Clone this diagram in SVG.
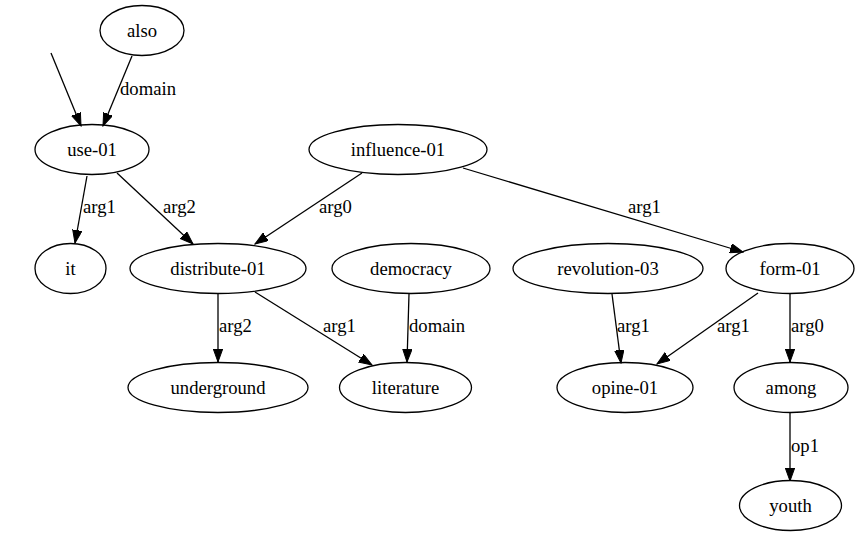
<svg xmlns="http://www.w3.org/2000/svg" width="860" height="537" viewBox="0 0 860 537" font-family="'Liberation Serif', 'Times New Roman', 'DejaVu Serif', serif">
<style>
ellipse{fill:none;stroke:#000;stroke-width:1.3}
text{font-family:'Liberation Serif','Times New Roman','DejaVu Serif',serif;font-size:18.67px;fill:#000}
.n text{text-anchor:middle}
#edges line{stroke:#000;stroke-width:1.3;marker-end:url(#ah)}
</style>
<defs>
<marker id="ah" markerUnits="userSpaceOnUse" markerWidth="14" markerHeight="10" refX="13" refY="4.7" orient="auto"><path d="M0,0 L13,4.7 L0,9.4 z" fill="#000" stroke="#000" stroke-width="1"/></marker>
</defs>
<rect width="860" height="537" fill="#fff"/>
<g id="edges">
<line x1="51" y1="53" x2="81" y2="126"/>
<line x1="132" y1="56" x2="103" y2="126"/>
<text x="120" y="95">domain</text>
<line x1="87" y1="176" x2="75" y2="243"/>
<text x="83" y="213">arg1</text>
<line x1="117" y1="173" x2="193" y2="244"/>
<text x="163" y="213">arg2</text>
<line x1="362" y1="173" x2="255" y2="244"/>
<text x="319" y="213">arg0</text>
<line x1="463" y1="168" x2="743" y2="252"/>
<text x="628" y="213">arg1</text>
<line x1="218" y1="293" x2="218" y2="362"/>
<text x="219" y="332">arg2</text>
<line x1="255" y1="292" x2="372" y2="365"/>
<text x="323" y="332">arg1</text>
<line x1="409" y1="294" x2="407" y2="362"/>
<text x="409" y="332">domain</text>
<line x1="612" y1="294" x2="621" y2="363"/>
<text x="617" y="332">arg1</text>
<line x1="758" y1="293" x2="657" y2="364"/>
<text x="717" y="332">arg1</text>
<line x1="790" y1="294" x2="790" y2="362"/>
<text x="791" y="332">arg0</text>
<line x1="790" y1="413" x2="790" y2="481"/>
<text x="791" y="452">op1</text>
</g>
<g id="also" class="n"><ellipse cx="142" cy="30.5" rx="42" ry="25"/><text x="142" y="36.5">also</text></g>
<g id="use-01" class="n"><ellipse cx="92" cy="149.5" rx="57" ry="25"/><text x="92" y="155.5">use-01</text></g>
<g id="influence-01" class="n"><ellipse cx="398" cy="149.5" rx="89" ry="25"/><text x="398" y="155.5">influence-01</text></g>
<g id="it" class="n"><ellipse cx="70.5" cy="268.5" rx="35.5" ry="25"/><text x="70.5" y="274.5">it</text></g>
<g id="distribute-01" class="n"><ellipse cx="218" cy="268.5" rx="88" ry="25"/><text x="218" y="274.5">distribute-01</text></g>
<g id="democracy" class="n"><ellipse cx="411" cy="268.5" rx="79" ry="25"/><text x="411" y="274.5">democracy</text></g>
<g id="revolution-03" class="n"><ellipse cx="608" cy="268.5" rx="95" ry="25"/><text x="608" y="274.5">revolution-03</text></g>
<g id="form-01" class="n"><ellipse cx="790" cy="268.5" rx="64" ry="25"/><text x="790" y="274.5">form-01</text></g>
<g id="underground" class="n"><ellipse cx="218" cy="387.5" rx="90" ry="25"/><text x="218" y="393.5">underground</text></g>
<g id="literature" class="n"><ellipse cx="405.5" cy="387.5" rx="66" ry="25"/><text x="405.5" y="393.5">literature</text></g>
<g id="opine-01" class="n"><ellipse cx="625" cy="387.5" rx="68" ry="25"/><text x="625" y="393.5">opine-01</text></g>
<g id="among" class="n"><ellipse cx="791" cy="387.5" rx="57" ry="25"/><text x="791" y="393.5">among</text></g>
<g id="youth" class="n"><ellipse cx="790.5" cy="505.5" rx="51" ry="25"/><text x="790.5" y="511.5">youth</text></g>
</svg>
